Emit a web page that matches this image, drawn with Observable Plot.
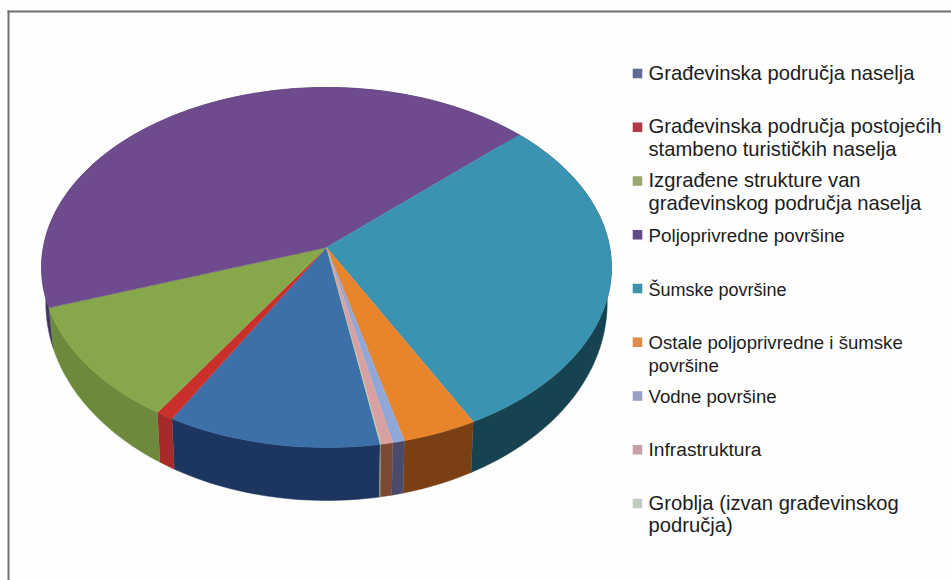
<!DOCTYPE html>
<html>
<head>
<meta charset="utf-8">
<script src="https://cdn.jsdelivr.net/npm/d3@7"></script>
<script src="https://cdn.jsdelivr.net/npm/@observablehq/plot@0.6"></script>
<style>
html,body{margin:0;padding:0;background:#fff;}
#chart{width:951px;height:580px;overflow:hidden;}
svg{display:block;}
</style>
</head>
<body>
<div id="chart"></div>
<script>
const categories = ["Građevinska područja naselja","Građevinska područja postojećih\nstambeno turističkih naselja","Izgrađene strukture van\ngrađevinskog područja naselja","Poljoprivredne površine","Šumske površine","Ostale poljoprivredne i šumske\npovršine","Vodne površine","Infrastruktura","Groblja (izvan građevinskog\npodručja)"];
const shares = [10.9, 0.9, 10.6, 43.4, 29.2, 3.8, 0.6, 0.6, 0.05];
const topColors = ["#3d6fa8","#c9302c","#86a84a","#6d4b8c","#3a93b0","#e8852c","#8fa8d8","#d8a0a0","#b8ccb0"];
const sideColors = ["#1c3660","#a52a2a","#6d8a3c","#3f3560","#174350","#7a3f12","#4a4a6a","#7a4a35","#7d8a78"];
const swatchColors = ["#5f6a96","#b03a48","#9aa870","#5f4a8a","#3f93ab","#dd8a4a","#9a9fc8","#c8a0a8","#c0ccc0"];
const legendFontSizes = [20.2, 20.2, 20.2, 18.8, 18, 18.6, 18.6, 19.2, 20.2];
const startDeg = 170.3;
const tilt = 0.111;   // perspective of the 3D pie

const total = d3.sum(shares);
let cum = startDeg;
const slices = shares.map((s, i) => {
  const a0 = cum; cum += s / total * 360;
  return {i, a0, a1: cum};
});
// the pie on a unit disc seen in perspective: returns plot units
function rim(deg) {
  const t = deg * Math.PI / 180, u = Math.sin(t), v = -Math.cos(t), k = 1 / (1 - tilt * v);
  return {x: u * k, y: v * k, v};
}
function lower(p) {
  return {x: p.x * 0.985, y: p.y, drop: 33 + 20 * p.v};
}
function arc(s) {
  const n = Math.max(2, Math.ceil((s.a1 - s.a0) / 1.5));
  return d3.range(n + 1).map(j => s.a0 + (s.a1 - s.a0) * j / n);
}
const topRows = slices.flatMap(s => [{x: 0, y: 0, i: s.i}, ...arc(s).map(a => ({...rim(a), i: s.i}))]);
const yUnit = 177.8; // vertical reach of the disc, px per unit
const sideRows = slices.flatMap(s => {
  const up = arc(s).map(rim);
  const down = up.slice().reverse().map(p => {
    const l = lower(p);
    return {x: l.x, y: l.y + l.drop / yUnit};
  });
  return [...up, ...down].map(p => ({x: p.x, y: p.y, i: s.i}));
});

const legendPlot = () => {
  const rows = categories.map((name, i) => ({name, size: legendFontSizes[i]}));
  return Plot.plot({
    width: 951, height: 580, margin: 0,
    style: {background: "transparent"},
    x: {domain: [0, 1], range: [637, 648], axis: null},
    y: {type: "point", padding: 0, round: false, domain: categories, range: [73, 503], axis: null},
    color: {domain: categories, range: swatchColors},
    marks: [
      Plot.dot(rows, {x: 0, y: "name", symbol: "square", r: 5.4, fill: "name", stroke: "none"}),
      ...rows.map(row => Plot.text([row], {
        x: 1, y: "name", text: "name", textAnchor: "start", lineAnchor: "top",
        dy: -0.5 * row.size,
        fontFamily: "Liberation Sans, Arial, sans-serif",
        fontSize: row.size, lineHeight: 22.8 / row.size, fill: "#1c1c1c"
      }))
    ]
  });
};

const chart = Plot.plot({
  width: 951, height: 580,
  marginTop: 11, marginLeft: 8, marginRight: 0, marginBottom: 0,
  style: {background: "#fefefe"},
  x: {domain: [-1, 1], range: [42.8, 609.2], axis: null},
  y: {domain: [-1, 1], range: [69.2, 424.8], axis: null},
  color: {type: "identity"},
  marks: [
    Plot.frame({anchor: "left", stroke: "#707070", strokeWidth: 2, strokeOpacity: 1}),
    Plot.frame({anchor: "top", stroke: "#707070", strokeWidth: 2, strokeOpacity: 1}),
    Plot.line(sideRows, {x: "x", y: "y", z: "i", fill: d => sideColors[d.i], stroke: d => sideColors[d.i], strokeWidth: 0.5, curve: "linear"}),
    Plot.line(topRows, {x: "x", y: "y", z: "i", fill: d => topColors[d.i], stroke: d => topColors[d.i], strokeWidth: 0.5, curve: "linear"}),
    legendPlot
  ]
});
document.getElementById("chart").append(chart);
</script>
</body>
</html>
